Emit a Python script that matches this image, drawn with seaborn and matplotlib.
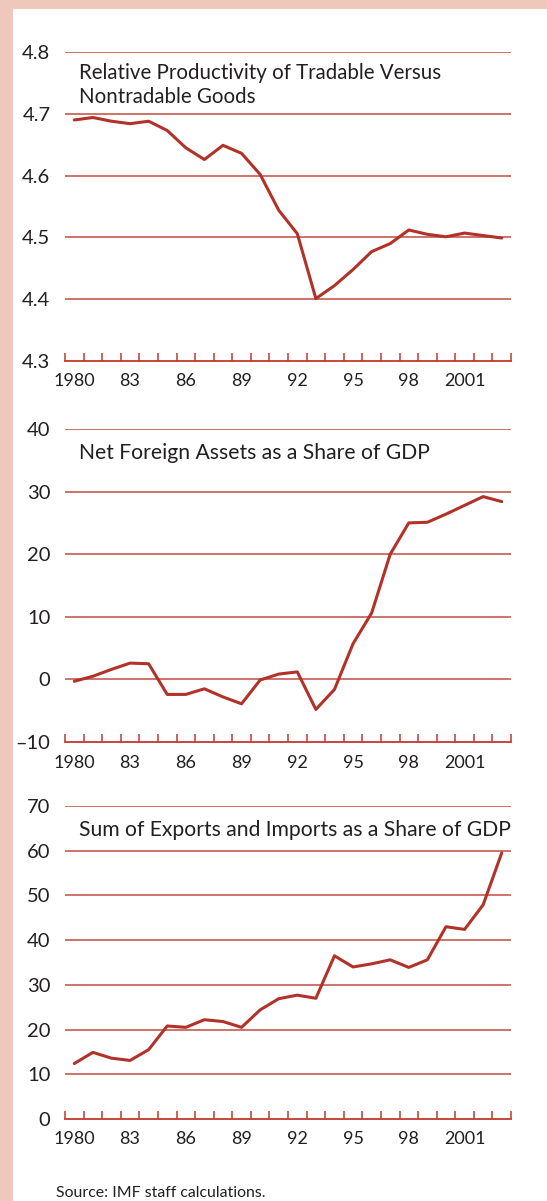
import numpy as np
import pandas as pd
import matplotlib
matplotlib.use("Agg")
import matplotlib.pyplot as plt
import seaborn as sns
from matplotlib.ticker import FixedLocator

years = list(range(1980, 2004))

productivity = [4.690, 4.694, 4.688, 4.684, 4.688, 4.673, 4.645, 4.626, 4.649, 4.636,
                4.602, 4.544, 4.506, 4.401, 4.422, 4.448, 4.477, 4.490, 4.512, 4.505,
                4.501, 4.507, 4.503, 4.499]

net_foreign_assets = [-0.3, 0.5, 1.6, 2.6, 2.5, -2.4, -2.4, -1.5, -2.8, -3.9,
                      -0.1, 0.85, 1.2, -4.8, -1.6, 5.7, 10.6, 20.0, 25.0, 25.1,
                      26.4, 27.8, 29.2, 28.4]

trade_share = [12.4, 14.9, 13.6, 13.1, 15.5, 20.8, 20.5, 22.2, 21.8, 20.5,
               24.4, 26.9, 27.7, 27.0, 36.5, 34.0, 34.7, 35.6, 33.9, 35.6,
               43.0, 42.4, 47.9, 59.5]

xtick_years = [1980, 1983, 1986, 1989, 1992, 1995, 1998, 2001]
xtick_labels = ["1980", "83", "86", "89", "92", "95", "98", "2001"]

panels = [
    ("Relative Productivity of Tradable Versus\nNontradable Goods", productivity,
     [4.3, 4.4, 4.5, 4.6, 4.7, 4.8], ["4.3", "4.4", "4.5", "4.6", "4.7", "4.8"]),
    ("Net Foreign Assets as a Share of GDP", net_foreign_assets,
     [-10, 0, 10, 20, 30, 40], ["\u201310", "0", "10", "20", "30", "40"]),
    ("Sum of Exports and Imports as a Share of GDP", trade_share,
     [0, 10, 20, 30, 40, 50, 60, 70], ["0", "10", "20", "30", "40", "50", "60", "70"]),
]

sns.set_style("white")
plt.rcParams["font.family"] = ["Lato", "DejaVu Sans"]

W, H = 547, 1201
fig = plt.figure(figsize=(W / 100, H / 100), dpi=100)
fig.patch.set_facecolor("#efc8bc")
# white panel
fig.add_artist(plt.Rectangle((13 / W, 0), 1, 1 - 9 / H, transform=fig.transFigure,
                             facecolor="white", edgecolor="none", zorder=0))

line_color = "#b2322a"
grid_color = "#c9675e"
axis_color = "#c0392b"
text_color = "#231f20"

# (top px, bottom px) of each plot area
boxes = [(52, 361), (429, 742), (806, 1119)]
left_px, right_px = 65, 511

for (title, values, yticks, ylabels), (top, bottom) in zip(panels, boxes):
    ax = fig.add_axes([left_px / W, 1 - bottom / H, (right_px - left_px) / W, (bottom - top) / H])
    ax.set_facecolor("none")
    df = pd.DataFrame({"year": years, "value": values})
    sns.lineplot(data=df, x="year", y="value", ax=ax, color=line_color, linewidth=2.2)

    ax.set_xlim(1979.5, 2003.5)
    ax.set_ylim(yticks[0], yticks[-1])
    for yv in yticks[1:]:
        ax.axhline(yv, color=grid_color, linewidth=1.3, zorder=0)

    for side in ["top", "right", "left"]:
        ax.spines[side].set_visible(False)
    ax.spines["bottom"].set_color(axis_color)
    ax.spines["bottom"].set_linewidth(1.3)

    ax.set_xticks(xtick_years)
    ax.set_xticklabels(xtick_labels)
    ax.xaxis.set_minor_locator(FixedLocator(np.arange(1979.5, 2004, 1.0)))
    ax.tick_params(axis="x", which="major", bottom=True, length=0, pad=9,
                   labelsize=13, labelcolor=text_color)
    ax.tick_params(axis="x", which="minor", bottom=True, direction="in", length=6,
                   width=1.1, color=axis_color)

    ax.set_yticks(yticks)
    ax.set_yticklabels(ylabels)
    ax.tick_params(axis="y", left=False, pad=7, labelsize=14.5, labelcolor=text_color)

    ax.set_xlabel("")
    ax.set_ylabel("")
    multi = "\n" in title
    ax.text(0.031, 0.966 if multi else 0.955, title, transform=ax.transAxes,
            ha="left", va="top", fontsize=15.2 if not multi else 14.8,
            color=text_color, linespacing=1.3)

fig.text(56 / W, 1 - 1193 / H, "Source: IMF staff calculations.", ha="left", va="center",
         fontsize=11.4, color=text_color)

fig.savefig("out.png", dpi=100, facecolor=fig.get_facecolor())
